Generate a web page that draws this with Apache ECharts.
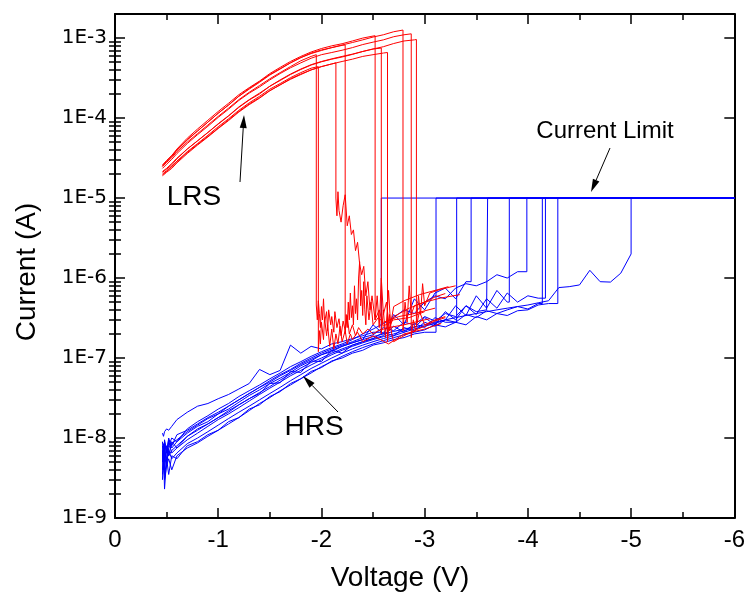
<!DOCTYPE html>
<html>
<head>
<meta charset="utf-8">
<script src="https://cdn.jsdelivr.net/npm/echarts@6.0.0/dist/echarts.min.js"></script>
<style>
  html, body { margin: 0; padding: 0; background: #fff; }
  #chart { width: 748px; height: 594px; }
</style>
</head>
<body>
<div id="chart"></div>
<script>
// voltage grid shared by the HRS (blue) sweeps
const hrsV = [-0.46, -0.47, -0.48, -0.5, -0.52, -0.55, -0.6, -0.7, -0.8, -0.9,
  -1.0, -1.1, -1.2, -1.3, -1.4, -1.5, -1.6, -1.7, -1.8, -1.9,
  -2.0, -2.1, -2.2, -2.3, -2.4, -2.5, -2.6, -2.7, -2.8, -2.9,
  -3.0, -3.1, -3.2, -3.3, -3.4, -3.5, -3.6, -3.7, -3.8, -3.9,
  -4.0, -4.1, -4.2, -4.3, -4.4, -4.5, -4.6, -4.7, -4.8, -4.9, -5.0];

// HRS currents (A), one array per sweep
const hrs1 = [1.15e-8, 1.05e-8, 1.2e-8, 1.3e-8, 1.25e-8, 1.4e-8, 1.7e-8, 2.1e-8, 2.5e-8, 2.7e-8,
  3.1e-8, 3.5e-8, 4.1e-8, 4.8e-8, 7.2e-8, 6.2e-8, 7.0e-8, 1.45e-7, 1.15e-7, 1.4e-7,
  1.3e-7, 1.5e-7, 1.6e-7, 1.75e-7, 1.9e-7, 2.1e-7];
const hrs2 = [3.0e-9, 6.5e-9, 2.3e-9, 5.5e-9, 3.5e-9, 6.0e-9, 5.5e-9, 8.0e-9, 9.0e-9, 1.1e-8,
  1.25e-8, 1.6e-8, 1.8e-8, 2.3e-8, 2.6e-8, 3.3e-8, 3.8e-8, 4.8e-8, 5.5e-8, 6.8e-8,
  7.6e-8, 9.2e-8, 1.0e-7, 1.15e-7, 1.25e-7, 1.45e-7, 1.55e-7, 1.7e-7, 1.8e-7, 2.0e-7,
  2.1e-7];
const hrs3 = [5.0e-9, 8.5e-9, 4.0e-9, 7.0e-9, 6.0e-9, 9.0e-9, 7.5e-9, 1.05e-8, 1.3e-8, 1.5e-8,
  1.8e-8, 2.1e-8, 2.6e-8, 3.1e-8, 3.6e-8, 4.8e-8, 4.9e-8, 6.8e-8, 6.6e-8, 9.2e-8,
  9.0e-8, 1.25e-7, 1.15e-7, 1.45e-7, 1.6e-7, 1.75e-7, 1.9e-7, 2.5e-7, 2.1e-7, 2.7e-7,
  2.4e-7, 3.2e-7, 2.8e-7];
const hrs4 = [6.0e-9, 4.5e-9, 9.0e-9, 6.5e-9, 1.0e-8, 7.5e-9, 9.0e-9, 1.15e-8, 1.4e-8, 1.6e-8,
  2.0e-8, 2.3e-8, 2.8e-8, 3.4e-8, 4.0e-8, 4.8e-8, 5.6e-8, 6.6e-8, 8.0e-8, 9.2e-8,
  1.1e-7, 1.2e-7, 1.4e-7, 1.55e-7, 1.7e-7, 2.6e-7, 2.0e-7, 3.5e-7, 2.6e-7, 5.5e-7,
  4.0e-7, 6.5e-7, 7.5e-7, 5.5e-7, 9.0e-7];
const hrs5 = [7.0e-9, 5.0e-9, 8.0e-9, 4.5e-9, 7.5e-9, 8.5e-9, 9.5e-9, 1.2e-8, 1.45e-8, 1.75e-8,
  2.0e-8, 2.5e-8, 3.0e-8, 3.6e-8, 4.3e-8, 5.2e-8, 6.2e-8, 7.2e-8, 8.6e-8, 1.0e-7,
  1.15e-7, 1.3e-7, 1.45e-7, 1.6e-7, 1.8e-7, 1.95e-7, 2.4e-7, 2.2e-7, 2.8e-7, 2.6e-7,
  3.3e-7, 2.9e-7, 3.6e-7, 3.3e-7, 4.5e-7, 3.8e-7, 4.0e-7];
const hrs6 = [4.0e-9, 6.0e-9, 3.5e-9, 5.0e-9, 7.0e-9, 5.5e-9, 6.5e-9, 8.5e-9, 1.0e-8, 1.2e-8,
  1.45e-8, 1.75e-8, 2.1e-8, 2.5e-8, 3.0e-8, 3.6e-8, 4.3e-8, 5.2e-8, 6.2e-8, 7.4e-8,
  8.6e-8, 1.0e-7, 1.15e-7, 1.3e-7, 1.45e-7, 1.6e-7, 1.75e-7, 1.9e-7, 2.1e-7, 2.3e-7,
  2.5e-7, 2.7e-7, 3.0e-7, 4.5e-7, 3.4e-7, 6.0e-7, 4.2e-7, 7.0e-7, 5.0e-7];
const hrs7 = [8.0e-9, 6.0e-9, 9.5e-9, 7.0e-9, 8.0e-9, 1.0e-8, 9.0e-9, 1.3e-8, 1.6e-8, 1.9e-8,
  2.3e-8, 2.7e-8, 3.3e-8, 3.9e-8, 4.6e-8, 5.5e-8, 6.5e-8, 7.8e-8, 9.0e-8, 1.05e-7,
  1.2e-7, 1.35e-7, 1.5e-7, 1.7e-7, 2.0e-7, 2.3e-7, 2.7e-7, 3.2e-7, 4.0e-7, 3.6e-7,
  5.0e-7, 6.0e-7, 5.5e-7, 7.5e-7, 8.5e-7, 8.0e-7, 9.0e-7, 1.1e-6, 1.0e-6, 1.2e-6];
const hrs8 = [5.5e-9, 7.5e-9, 5.0e-9, 8.0e-9, 6.0e-9, 7.0e-9, 8.0e-9, 1.05e-8, 1.25e-8, 1.5e-8,
  1.8e-8, 2.2e-8, 2.6e-8, 3.1e-8, 3.7e-8, 4.4e-8, 5.3e-8, 6.3e-8, 7.5e-8, 8.8e-8,
  1.0e-7, 1.15e-7, 1.3e-7, 1.45e-7, 1.6e-7, 1.75e-7, 2.1e-7, 1.9e-7, 2.4e-7, 2.2e-7,
  2.8e-7, 2.5e-7, 3.0e-7, 2.8e-7, 3.5e-7, 3.2e-7, 3.9e-7, 3.6e-7, 4.0e-7, 4.4e-7,
  4.1e-7, 4.8e-7];
const hrs9 = [6.5e-9, 4.0e-9, 7.0e-9, 5.5e-9, 9.0e-9, 6.5e-9, 7.5e-9, 9.5e-9, 1.15e-8, 1.4e-8,
  1.7e-8, 2.0e-8, 2.4e-8, 2.9e-8, 3.5e-8, 4.2e-8, 5.0e-8, 6.0e-8, 7.0e-8, 8.2e-8,
  9.5e-8, 1.1e-7, 1.25e-7, 1.4e-7, 1.55e-7, 1.7e-7, 1.85e-7, 2.0e-7, 2.2e-7, 2.4e-7,
  3.2e-7, 2.6e-7, 3.8e-7, 3.0e-7, 4.5e-7, 3.5e-7, 5.5e-7, 4.2e-7, 6.5e-7, 5.0e-7,
  6.0e-7, 5.6e-7];
const hrs10 = [3.5e-9, 5.0e-9, 3.0e-9, 4.5e-9, 5.5e-9, 4.0e-9, 6.0e-9, 7.5e-9, 8.7e-9, 1.05e-8,
  1.25e-8, 1.5e-8, 1.8e-8, 2.2e-8, 2.7e-8, 3.2e-8, 3.9e-8, 4.6e-8, 5.5e-8, 6.5e-8,
  7.8e-8, 9.0e-8, 1.05e-7, 1.2e-7, 1.35e-7, 1.5e-7, 1.65e-7, 1.8e-7, 1.95e-7, 2.1e-7,
  2.25e-7, 2.6e-7, 2.45e-7, 2.8e-7, 2.6e-7, 3.3e-7, 3.0e-7, 3.6e-7, 3.4e-7, 3.9e-7,
  4.0e-7, 4.6e-7, 4.8e-7];
const hrs11 = [9.0e-9, 5.5e-9, 8.5e-9, 6.5e-9, 9.5e-9, 8.0e-9, 1.1e-8, 1.25e-8, 1.5e-8, 1.8e-8,
  2.1e-8, 2.5e-8, 3.0e-8, 3.6e-8, 4.3e-8, 5.0e-8, 6.0e-8, 7.0e-8, 8.3e-8, 9.6e-8,
  1.1e-7, 1.25e-7, 1.4e-7, 1.55e-7, 1.7e-7, 1.85e-7, 2.0e-7, 2.15e-7, 2.3e-7, 2.45e-7,
  2.6e-7, 2.8e-7, 3.0e-7, 3.2e-7, 3.4e-7, 3.6e-7, 3.8e-7, 4.0e-7, 4.2e-7, 4.4e-7,
  4.6e-7, 4.9e-7, 5.2e-7, 7.6e-7, 7.8e-7, 8.2e-7, 1.25e-6, 9.0e-7, 8.9e-7, 1.15e-6,
  2.0e-6];
const hrsCurves = [hrs1, hrs2, hrs3, hrs4, hrs5, hrs6, hrs7, hrs8, hrs9, hrs10, hrs11];
// voltage where each sweep jumps to the compliance
const setV = [-2.58, -3.11, -3.31, -3.45, -3.61, -3.82, -3.99, -4.14, -4.17, -4.29, -5.0];
const currentLimit = 1e-5;

// voltage grid shared by the LRS (red) sweeps
const lrsV = [-0.46, -0.5, -0.55, -0.6, -0.7, -0.8, -0.9, -1.0, -1.1, -1.2,
  -1.3, -1.4, -1.5, -1.6, -1.7, -1.8, -1.9, -2.0, -2.1, -2.2,
  -2.3, -2.4, -2.5, -2.6, -2.7, -2.8, -2.9];
const lrs1 = [2.5e-5, 2.8e-5, 3.2e-5, 3.8e-5, 5.0e-5, 6.4e-5, 8.2e-5, 1.05e-4, 1.33e-4, 1.7e-4,
  2.1e-4, 2.55e-4, 3.1e-4, 3.7e-4, 4.4e-4, 5.2e-4, 5.9e-4];
const lrs2 = [1.95e-5, 2.15e-5, 2.45e-5, 2.9e-5, 3.8e-5, 4.8e-5, 6.1e-5, 7.8e-5, 9.8e-5, 1.25e-4,
  1.55e-4, 1.87e-4, 2.3e-4, 2.7e-4, 3.2e-4, 3.7e-4, 4.2e-4];
const lrs3 = [1.9e-5, 2.1e-5, 2.35e-5, 2.75e-5, 3.6e-5, 4.6e-5, 5.8e-5, 7.4e-5, 9.3e-5, 1.19e-4,
  1.47e-4, 1.77e-4, 2.2e-4, 2.6e-4, 3.05e-4, 3.5e-4, 4.0e-4, 4.4e-4, 4.75e-4];
const lrs4 = [2.6e-5, 2.95e-5, 3.4e-5, 4.0e-5, 5.4e-5, 6.9e-5, 8.9e-5, 1.15e-4, 1.45e-4, 1.87e-4,
  2.3e-4, 2.8e-4, 3.45e-4, 4.1e-4, 4.9e-4, 5.7e-4, 6.5e-4, 7.1e-4, 7.6e-4, 8.1e-4];
const lrs5 = [2.5e-5, 2.9e-5, 3.4e-5, 4.1e-5, 5.6e-5, 7.3e-5, 9.4e-5, 1.21e-4, 1.53e-4, 1.96e-4,
  2.4e-4, 2.9e-4, 3.6e-4, 4.3e-4, 5.1e-4, 5.9e-4, 6.7e-4, 7.4e-4, 8.0e-4, 8.5e-4,
  9.2e-4, 1.0e-3, 1.06e-3];
const lrs6 = [2.1e-5, 2.3e-5, 2.6e-5, 3.1e-5, 4.1e-5, 5.2e-5, 6.6e-5, 8.5e-5, 1.07e-4, 1.38e-4,
  1.7e-4, 2.05e-4, 2.5e-4, 3.0e-4, 3.55e-4, 4.1e-4, 4.65e-4, 5.1e-4, 5.5e-4, 5.9e-4,
  6.3e-4, 6.8e-4, 7.3e-4];
const lrs7 = [2.0e-5, 2.2e-5, 2.5e-5, 2.85e-5, 3.7e-5, 4.7e-5, 5.9e-5, 7.5e-5, 9.5e-5, 1.21e-4,
  1.5e-4, 1.8e-4, 2.2e-4, 2.6e-4, 3.1e-4, 3.55e-4, 4.0e-4, 4.4e-4, 4.75e-4, 5.1e-4,
  5.45e-4, 5.9e-4, 6.2e-4, 6.5e-4];
const lrs8 = [2.5e-5, 2.85e-5, 3.3e-5, 3.95e-5, 5.3e-5, 6.9e-5, 8.9e-5, 1.15e-4, 1.46e-4, 1.88e-4,
  2.35e-4, 2.85e-4, 3.5e-4, 4.15e-4, 4.9e-4, 5.7e-4, 6.4e-4, 7.0e-4, 7.6e-4, 8.2e-4,
  8.8e-4, 9.5e-4, 1.03e-3, 1.1e-3, 1.2e-3];
const lrs9 = [2.35e-5, 2.65e-5, 3.05e-5, 3.6e-5, 4.8e-5, 6.2e-5, 7.9e-5, 1.02e-4, 1.29e-4, 1.66e-4,
  2.05e-4, 2.45e-4, 3.0e-4, 3.6e-4, 4.25e-4, 4.9e-4, 5.6e-4, 6.2e-4, 6.6e-4, 7.05e-4,
  7.6e-4, 8.3e-4, 8.9e-4, 9.5e-4, 1.04e-3, 1.1e-3];
const lrs10 = [2.15e-5, 2.35e-5, 2.7e-5, 3.15e-5, 4.1e-5, 5.2e-5, 6.6e-5, 8.4e-5, 1.06e-4, 1.36e-4,
  1.68e-4, 2.0e-4, 2.5e-4, 2.95e-4, 3.5e-4, 4.05e-4, 4.6e-4, 5.05e-4, 5.45e-4, 5.8e-4,
  6.25e-4, 6.8e-4, 7.3e-4, 7.8e-4, 8.55e-4, 9.2e-4, 9.5e-4];
const lrsCurves = [lrs1, lrs2, lrs3, lrs4, lrs5, lrs6, lrs7, lrs8, lrs9, lrs10];
// reset voltage and the current just before the drop
const resetV = [-1.95, -1.97, -2.14, -2.23, -2.52, -2.58, -2.64, -2.79, -2.87, -2.92];
const resetTop = [6.2e-4, 4.4e-4, 4.9e-4, 8.2e-4, 1.07e-3, 7.5e-4, 6.6e-4, 1.26e-3, 1.13e-3, 9.6e-4];

// noisy low-current part after each reset, [V, I]
const tail1 = [[-1.95, 4.6e-7], [-1.96, 3.0e-7], [-1.97, 5.2e-7], [-1.98, 3.6e-7], [-1.99, 2.4e-7],
  [-2.0, 4.4e-7], [-2.01, 3.0e-7], [-2.02, 5.5e-7], [-2.03, 2.8e-7], [-2.05, 3.8e-7],
  [-2.06, 2.2e-7], [-2.07, 4.0e-7], [-2.09, 2.6e-7], [-2.1, 3.3e-7], [-2.12, 2.1e-7],
  [-2.13, 3.8e-7], [-2.15, 2.4e-7], [-2.17, 3.1e-7], [-2.19, 1.9e-7], [-2.21, 2.9e-7],
  [-2.23, 2.2e-7], [-2.25, 3.4e-7], [-2.27, 2.0e-7], [-2.3, 2.6e-7], [-2.33, 1.9e-7],
  [-2.36, 2.4e-7], [-2.4, 2.0e-7], [-2.45, 2.3e-7], [-2.5, 2.0e-7], [-2.55, 2.2e-7],
  [-2.65, 2.4e-7], [-2.8, 2.6e-7], [-2.95, 2.9e-7], [-3.05, 3.1e-7]];
const tail2 = [[-1.97, 1.2e-7], [-1.98, 2.2e-7], [-1.99, 1.5e-7], [-2.0, 2.8e-7], [-2.02, 1.7e-7],
  [-2.03, 3.2e-7], [-2.05, 1.9e-7], [-2.06, 2.6e-7], [-2.08, 1.4e-7], [-2.1, 2.3e-7],
  [-2.12, 1.3e-7], [-2.14, 2.0e-7], [-2.16, 1.5e-7], [-2.18, 2.5e-7], [-2.2, 1.6e-7],
  [-2.23, 2.2e-7], [-2.25, 1.5e-7], [-2.28, 2.0e-7], [-2.3, 1.7e-7], [-2.35, 2.1e-7],
  [-2.4, 1.6e-7], [-2.5, 1.9e-7], [-2.65, 1.5e-7], [-2.8, 2.0e-7], [-3.0, 2.3e-7], [-3.16, 2.7e-7]];
const tail3 = [[-2.14, 1.0e-5], [-2.15, 6.0e-6], [-2.16, 1.2e-5], [-2.17, 7.0e-6], [-2.19, 5.0e-6],
  [-2.21, 8.0e-6], [-2.23, 1.1e-5], [-2.25, 4.5e-6], [-2.27, 6.0e-6], [-2.29, 3.5e-6],
  [-2.31, 4.0e-6], [-2.33, 2.2e-6], [-2.35, 2.8e-6], [-2.37, 1.5e-6], [-2.39, 1.1e-6],
  [-2.41, 1.4e-6], [-2.43, 6.0e-7], [-2.45, 9.0e-7], [-2.47, 4.0e-7], [-2.49, 6.0e-7],
  [-2.52, 3.0e-7], [-2.56, 4.0e-7], [-2.6, 2.5e-7], [-2.7, 3.0e-7], [-2.85, 3.2e-7], [-3.0, 3.8e-7]];
const tail4 = [[-2.23, 2.0e-7], [-2.24, 3.5e-7], [-2.25, 2.4e-7], [-2.26, 5.0e-7], [-2.27, 3.0e-7],
  [-2.28, 6.5e-7], [-2.29, 3.2e-7], [-2.3, 4.5e-7], [-2.31, 2.6e-7], [-2.32, 8.0e-7],
  [-2.33, 3.6e-7], [-2.34, 5.5e-7], [-2.35, 3.0e-7], [-2.36, 1.0e-6], [-2.37, 1.6e-6],
  [-2.38, 4.5e-7], [-2.39, 7.0e-7], [-2.4, 3.4e-7], [-2.41, 9.0e-7], [-2.42, 4.0e-7],
  [-2.43, 2.6e-7], [-2.44, 6.0e-7], [-2.46, 3.0e-7], [-2.48, 5.0e-7], [-2.5, 2.6e-7],
  [-2.55, 3.2e-7], [-2.6, 2.8e-7], [-2.75, 3.3e-7], [-2.9, 3.6e-7], [-3.1, 4.2e-7]];
const tail5 = [[-2.52, 3.0e-7], [-2.54, 6.0e-7], [-2.56, 2.4e-7], [-2.58, 1.0e-6], [-2.6, 3.5e-7],
  [-2.63, 5.0e-7], [-2.66, 2.2e-7], [-2.7, 4.4e-7], [-2.8, 5.2e-7], [-2.95, 6.2e-7],
  [-3.1, 7.0e-7], [-3.23, 7.8e-7]];
const tail6 = [[-2.58, 2.0e-7], [-2.6, 4.0e-7], [-2.62, 1.8e-7], [-2.65, 7.0e-7], [-2.67, 2.6e-7],
  [-2.7, 3.3e-7], [-2.85, 4.2e-7], [-3.0, 5.0e-7], [-3.15, 5.6e-7], [-3.34, 6.2e-7]];
const tail7 = [[-2.64, 1.6e-7], [-2.66, 3.5e-7], [-2.68, 2.0e-7], [-2.7, 1.6e-7], [-2.8, 1.9e-7],
  [-2.9, 2.2e-7], [-3.0, 2.5e-7], [-3.1, 2.9e-7], [-3.2, 3.2e-7]];
const tail8 = [[-2.79, 2.2e-7], [-2.81, 5.0e-7], [-2.83, 2.8e-7], [-2.85, 8.0e-7], [-2.87, 3.5e-7],
  [-2.9, 4.5e-7], [-3.0, 5.0e-7], [-3.1, 5.8e-7], [-3.2, 6.4e-7]];
const tail9 = [[-2.87, 1.8e-7], [-2.89, 3.0e-7], [-2.91, 2.2e-7], [-2.95, 3.8e-7], [-3.0, 2.6e-7],
  [-3.1, 3.0e-7], [-3.2, 3.3e-7]];
const tail10 = [[-2.92, 2.6e-7], [-2.94, 6.0e-7], [-2.96, 3.5e-7], [-2.98, 8.5e-7], [-3.0, 4.5e-7],
  [-3.05, 6.5e-7], [-3.15, 7.2e-7], [-3.3, 8.0e-7]];
const lrsTails = [tail1, tail2, tail3, tail4, tail5, tail6, tail7, tail8, tail9, tail10];

// annotations (pixel positions)
const notes = [
  { text: 'LRS', x: 194, y: 197, size: 28 },
  { text: 'HRS', x: 314, y: 427, size: 28 },
  { text: 'Current Limit', x: 605, y: 131, size: 24 }
];
const arrows = [
  [240, 182, 244, 115],
  [338, 412, 303, 376],
  [610, 148, 591, 192]
];

const FONT = '"Liberation Sans", Arial, sans-serif';

// log minor tick positions 2..9 x 10^n
const minorVals = [];
for (let e = -9; e <= -3; e++) {
  for (let m = 2; m <= 9; m++) {
    const v = m * Math.pow(10, e);
    if (v < 2e-3) minorVals.push(v);
  }
}

const series = [];
hrsCurves.forEach((vals, k) => {
  const pts = vals.map((v, i) => [hrsV[i], v]);
  pts.push([setV[k], vals[vals.length - 1]]);
  pts.push([setV[k], currentLimit]);
  pts.push([-6, currentLimit]);
  series.push({
    type: 'line', data: pts, showSymbol: false, symbol: 'none', silent: true,
    lineStyle: { color: '#0000ff', width: 1 }, z: 2
  });
});
lrsCurves.forEach((vals, k) => {
  const pts = vals.map((v, i) => [lrsV[i], v]);
  pts.push([resetV[k], resetTop[k]]);
  lrsTails[k].forEach(p => pts.push(p));
  series.push({
    type: 'line', data: pts, showSymbol: false, symbol: 'none', silent: true,
    lineStyle: { color: '#ff0000', width: 1 }, z: 3
  });
});

function arrowParts(a) {
  const [x1, y1, x2, y2] = a;
  const ang = Math.atan2(y2 - y1, x2 - x1);
  const len = 13, half = 3.5;
  const bx = x2 - len * Math.cos(ang), by = y2 - len * Math.sin(ang);
  const px = -Math.sin(ang) * half, py = Math.cos(ang) * half;
  return [
    { type: 'line', shape: { x1: x1, y1: y1, x2: bx, y2: by }, style: { stroke: '#000', lineWidth: 1 }, z: 100 },
    { type: 'polygon', shape: { points: [[x2, y2], [bx + px, by + py], [bx - px, by - py]] }, style: { fill: '#000' }, z: 100 }
  ];
}

const graphic = [];
notes.forEach(n => {
  graphic.push({
    type: 'text', x: n.x, y: n.y, z: 100,
    style: { text: n.text, font: n.size + 'px ' + FONT, fill: '#000', align: 'center', verticalAlign: 'middle' }
  });
});
arrows.forEach(a => arrowParts(a).forEach(g => graphic.push(g)));
graphic.push({
  type: 'text', x: 400, y: 578, z: 100,
  style: { text: 'Voltage (V)', font: '28px ' + FONT, fill: '#000', align: 'center', verticalAlign: 'middle' }
});
graphic.push({
  type: 'text', x: 27, y: 272, rotation: Math.PI / 2, z: 100,
  style: { text: 'Current (A)', font: '28px ' + FONT, fill: '#000', align: 'center', verticalAlign: 'middle' }
});

const frameLine = { show: true, onZero: false, lineStyle: { color: '#000', width: 2 } };
const xBase = {
  type: 'value', min: -6, max: 0, interval: 1, inverse: true,
  axisLine: frameLine,
  axisTick: { show: true, inside: true, length: 10, lineStyle: { color: '#000', width: 1.5 } },
  minorTick: { show: true, splitNumber: 2, length: 6, lineStyle: { color: '#000', width: 1.5 } },
  splitLine: { show: false }, minorSplitLine: { show: false }
};
const yBase = {
  type: 'log', logBase: 10, min: 1e-9, max: 2e-3,
  axisLine: frameLine,
  axisTick: { show: true, inside: true, length: 10, lineStyle: { color: '#000', width: 1.5 } },
  axisLabel: { show: false },
  splitLine: { show: false }
};
const yMinor = {
  type: 'log', logBase: 10, min: 1e-9, max: 2e-3,
  axisLine: { show: false },
  axisTick: { show: true, inside: true, length: 6, customValues: minorVals, lineStyle: { color: '#000', width: 1.5 } },
  axisLabel: { show: false },
  splitLine: { show: false }
};

const chart = echarts.init(document.getElementById('chart'));
chart.setOption({
  animation: false,
  backgroundColor: '#fff',
  grid: { left: 115, right: 12, top: 14, bottom: 76, containLabel: false },
  xAxis: [
    Object.assign({}, xBase, {
      position: 'bottom',
      axisLabel: { show: true, margin: 10, fontSize: 24, fontFamily: FONT, color: '#000' }
    }),
    Object.assign({}, xBase, { position: 'top', axisLabel: { show: false } })
  ],
  yAxis: [
    Object.assign({}, yBase, {
      position: 'left',
      axisLabel: {
        show: true, margin: 8, fontSize: 20, fontFamily: '"DejaVu Sans", sans-serif', color: '#000',
        showMaxLabel: false,
        formatter: function (v) {
          const e = Math.log10(v);
          return Math.abs(e - Math.round(e)) < 1e-6 ? '1E' + Math.round(e) : '';
        }
      }
    }),
    Object.assign({}, yMinor, { position: 'left' }),
    Object.assign({}, yBase, { position: 'right' }),
    Object.assign({}, yMinor, { position: 'right' })
  ],
  series: series,
  graphic: graphic
});
</script>
</body>
</html>
